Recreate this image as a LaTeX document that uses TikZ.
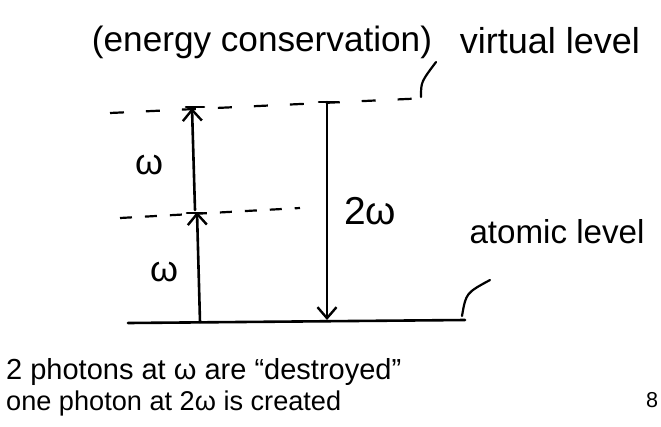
\documentclass[tikz,border=0pt]{standalone}
\usepackage{fontspec}
\setmainfont{Liberation Sans}
\usetikzlibrary{arrows.meta}
\newcommand{\fitw}[2]{\resizebox{#1}{!}{#2}}
\begin{document}
\begin{tikzpicture}[x=1pt,y=-1pt,
  ink/.style={line width=2.6pt,line cap=round},
  lvl/.style={line width=2.2pt,dash pattern=on 14pt off 22pt},
  mid/.style={line width=2.2pt,dash pattern=on 12pt off 13pt},
  arr/.style={ink,-{Straight Barb[length=11pt,width=19pt,line width=2.4pt]}},
  lbl/.style={inner sep=0pt,anchor=center},
  lead/.style={line width=2.2pt,line cap=round}]
\useasboundingbox (0,0) rectangle (661,426);
% coordinates
\coordinate (VL) at (110,113);
\coordinate (VR) at (428,98);
\coordinate (ML) at (120,218);
\coordinate (MR) at (300,208);
\coordinate (GL) at (128,323);
\coordinate (GR) at (465,320);
\coordinate (A1s) at (200,322);
\coordinate (A1e) at (197,212);
\coordinate (A2s) at (195,210);
\coordinate (A2e) at (192,108);
\coordinate (Ds) at (327,102);
\coordinate (De) at (327,320);
\coordinate (VLs) at (421,97);
\coordinate (VLe) at (436,62);
\coordinate (ALs) at (462,316);
\coordinate (ALe) at (490,280);
% levels
\draw[lvl] (VL) -- (VR);
\draw[mid] (ML) -- (MR);
\draw[ink] (GL) -- (GR);
% arrows
\draw[arr] (A1s) -- (A1e);
\draw[arr] (A2s) -- (A2e);
\draw[arr] (Ds) -- (De);
\draw[ink] (319,102) -- (336,102);
\draw[ink] (186,107) -- (204,107);
\draw[ink] (187,213) -- (203,213);
% leaders
\draw[lead] (VLs) .. controls (421,82) .. (VLe);
\draw[lead] (ALs) .. controls (466,293) .. (ALe);
% texts
\node[lbl] (t1) at (262,42) {\fitw{340pt}{(energy conservation)}};
\node[lbl] (t2) at (550,41) {\fitw{180pt}{virtual level}};
\node[lbl] (w1) at (149,165) {\fitw{28pt}{ω}};
\node[lbl] (w2) at (164,272) {\fitw{28pt}{ω}};
\node[lbl] (w3) at (370,211) {\fitw{52pt}{2ω}};
\node[lbl] (t3) at (557,232) {\fitw{175pt}{atomic level}};
\node[lbl,anchor=west] (b1) at (6,372) {\fitw{395pt}{2 photons at ω are “destroyed”}};
\node[lbl,anchor=west] (b2) at (6,403) {\fitw{335pt}{one photon at 2ω is created}};
\node[lbl] (pg) at (652,400) {\fitw{12pt}{8}};
\end{tikzpicture}
\end{document}
